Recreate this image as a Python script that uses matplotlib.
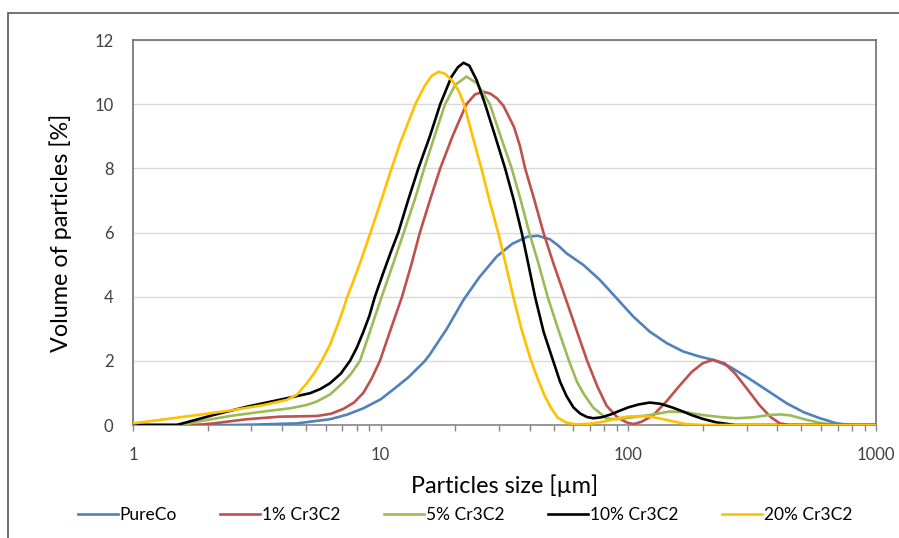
import matplotlib
matplotlib.use("Agg")
import matplotlib.pyplot as plt
from matplotlib.patches import Rectangle
from matplotlib.ticker import FixedLocator, NullFormatter, LogLocator

plt.rcParams['font.family'] = ['Lato', 'DejaVu Sans']

# particle size distributions
x_pure = [1, 2.5, 3, 4.58, 6.24, 7.3, 8.51, 10, 11.6, 13, 15.1, 15.8, 18.5, 21.6, 25, 29.4, 34, 39.2, 43,
          48.2, 52, 56.3, 65.8, 76.8, 89.7, 104.7, 122, 143, 166.6, 194.6, 220, 255, 300, 360, 435, 510, 594,
          693, 800, 1000]
y_pure = [0, 0, 0.01, 0.05, 0.18, 0.32, 0.52, 0.8, 1.19, 1.5, 2.0, 2.2, 3.0, 3.9, 4.6, 5.25, 5.65, 5.87, 5.9,
          5.79, 5.6, 5.35, 4.99, 4.52, 3.95, 3.38, 2.91, 2.55, 2.29, 2.13, 2.03, 1.83, 1.5, 1.1, 0.68, 0.4, 0.21,
          0.05, 0, 0]

x_1 = [1, 1.8, 2.11, 2.88, 3.92, 5.52, 6.3, 7.06, 7.8, 8.51, 9.2, 9.93, 11, 12.2, 13.3, 14.4, 15.8, 17.4,
       19.5, 22.2, 24, 25.9, 27.7, 29.5, 31.3, 34.5, 36.5, 38.3, 41.8, 45.4, 50, 55.5, 61.5, 68.2, 75, 81.7,
       90, 98.4, 105, 113, 126, 143, 160, 180, 200, 220, 245, 270, 300, 340, 375, 409, 450, 1000]
y_1 = [0, 0, 0.05, 0.18, 0.26, 0.28, 0.35, 0.5, 0.7, 1.0, 1.45, 2.0, 3.0, 4.0, 5.0, 6.0, 7.0, 8.0,
       9.0, 10.0, 10.3, 10.39, 10.33, 10.18, 9.95, 9.3, 8.7, 8.0, 7.0, 6.0, 5.0, 4.0, 3.0, 2.0, 1.2, 0.6,
       0.25, 0.08, 0.03, 0.1, 0.3, 0.75, 1.2, 1.65, 1.93, 2.03, 1.92, 1.6, 1.15, 0.6, 0.25, 0.05, 0, 0]

x_5 = [1, 1.6, 1.81, 2.46, 3.36, 4.3, 5.0, 5.52, 6.24, 7.0, 7.6, 8.25, 9.0, 9.5, 10.1, 11.2, 12.4, 13.7,
       15.0, 16.5, 18.2, 20.0, 22.2, 24.5, 27.6, 30.5, 33.8, 36.8, 39.8, 43.5, 47.2, 52, 57.6, 62, 65.8,
       72, 81.7, 90, 100, 122, 147, 170, 200, 240, 274, 320, 370, 409, 450, 525, 600, 693, 1000]
y_5 = [0, 0, 0.1, 0.28, 0.42, 0.52, 0.62, 0.73, 0.95, 1.3, 1.6, 2.0, 2.85, 3.4, 4.0, 5.0, 6.0, 7.0,
       8.0, 9.0, 10.0, 10.6, 10.86, 10.65, 10.0, 9.0, 8.0, 7.0, 6.0, 5.0, 4.0, 3.0, 2.0, 1.35, 0.99,
       0.55, 0.2, 0.18, 0.22, 0.31, 0.42, 0.4, 0.31, 0.24, 0.21, 0.24, 0.31, 0.33, 0.3, 0.16, 0.06, 0, 0]

x_10 = [1, 1.5, 2.11, 2.88, 4.04, 5.18, 5.7, 6.24, 6.9, 7.52, 8.0, 8.51, 9.0, 9.48, 10.2, 11, 11.78, 12.9,
        14.2, 15.8, 17.4, 19.3, 20.5, 21.6, 22.8, 24.4, 26.4, 29, 31.8, 34.5, 37.1, 39.5, 42, 45.5, 49.7,
        53, 56.3, 60, 63.8, 68, 72.2, 78, 85, 92, 100, 110, 122, 135, 150, 165, 180, 200, 227, 270, 1000]
y_10 = [0, 0, 0.31, 0.57, 0.81, 0.99, 1.12, 1.3, 1.6, 2.0, 2.4, 2.9, 3.4, 4.0, 4.7, 5.4, 6.0, 7.0,
        8.0, 9.0, 10.0, 10.85, 11.15, 11.29, 11.2, 10.75, 10.0, 9.0, 8.0, 7.0, 6.0, 5.0, 4.0, 2.9, 2.0,
        1.35, 0.9, 0.55, 0.36, 0.25, 0.21, 0.24, 0.33, 0.44, 0.55, 0.64, 0.70, 0.66, 0.55, 0.43, 0.31, 0.19,
        0.08, 0, 0]

x_20 = [1, 1.81, 2.46, 3.36, 4.17, 4.6, 5.03, 5.4, 5.78, 6.24, 6.65, 7.06, 7.29, 7.64, 8.3, 9.05, 10, 11.07,
        12, 13.1, 13.8, 15, 16, 17.1, 18.2, 19.5, 20.7, 21.7, 23.5, 25.5, 27.5, 29.8, 32, 34.3, 37, 40.1,
        43, 46, 49, 52, 56.3, 62, 70, 80, 90, 98.4, 111, 122, 135, 150, 170, 200, 1000]
y_20 = [0.05, 0.31, 0.45, 0.62, 0.78, 0.95, 1.3, 1.62, 2.0, 2.5, 3.05, 3.6, 3.95, 4.35, 5.1, 5.95, 6.95, 8.0,
        8.8, 9.55, 10.0, 10.55, 10.87, 11.01, 10.95, 10.72, 10.4, 10.0, 9.0, 8.0, 7.0, 6.0, 5.0, 4.0, 3.0, 2.1,
        1.45, 0.9, 0.5, 0.22, 0.07, 0.02, 0.04, 0.11, 0.2, 0.26, 0.28, 0.26, 0.2, 0.12, 0.03, 0, 0]

labels = ["PureCo", "1% Cr3C2", "5% Cr3C2", "10% Cr3C2", "20% Cr3C2"]
colors = ['#4F81BD', '#C0504D', '#9BBB59', '#000000', '#FFC000']

fig = plt.figure(figsize=(8.99, 5.38), dpi=100)
ax = fig.add_axes([133/899, 1-425/538, (876-133)/899, (425-40)/538])

series = [(x_pure, y_pure), (x_1, y_1), (x_5, y_5), (x_10, y_10), (x_20, y_20)]
for (xs, ys), lab, c in zip(series, labels, colors):
    ax.plot(xs, ys, color=c, lw=1.9, label=lab, solid_joinstyle='round', zorder=3)

ax.set_xscale('log')
ax.set_xlim(1, 1000)
ax.set_ylim(0, 12)
ax.xaxis.set_major_locator(FixedLocator([1, 10, 100, 1000]))
ax.set_xticklabels(["1", "10", "100", "1000"])
ax.xaxis.set_minor_locator(LogLocator(base=10, subs=range(2, 10)))
ax.xaxis.set_minor_formatter(NullFormatter())
ax.set_yticks(range(0, 13, 2))

ax.yaxis.grid(True, color='#D9D9D9', lw=1)
ax.set_axisbelow(True)
for s in ['left', 'top', 'right']:
    ax.spines[s].set_color('#6E6E6E')
    ax.spines[s].set_linewidth(1.2)
ax.spines['bottom'].set_color('#868686')
ax.spines['bottom'].set_linewidth(1.2)

ax.tick_params(axis='x', which='both', direction='out', length=4, width=1, color='#868686',
               pad=12, labelsize=12, labelcolor='#404040')
ax.tick_params(axis='y', length=0, pad=14, labelsize=12, labelcolor='#404040')

ax.set_xlabel("Particles size [µm]", fontsize=16.8, labelpad=8)
ax.set_ylabel("Volume of particles [%]", fontsize=16.8)
ax.yaxis.set_label_coords(-(133-72)/(876-133), 0.5)

fig.legend(loc='center', bbox_to_anchor=(465/899, 1-515/538), ncol=5, frameon=False, fontsize=12.5,
           handlelength=2.3, handletextpad=0.12, columnspacing=2.5)

fig.patches.append(Rectangle((8/899, -0.05), 1.0, (538-13)/538 + 0.05, transform=fig.transFigure,
                             fill=False, edgecolor='#595959', lw=1.2))

fig.savefig("out.png", dpi=100)
